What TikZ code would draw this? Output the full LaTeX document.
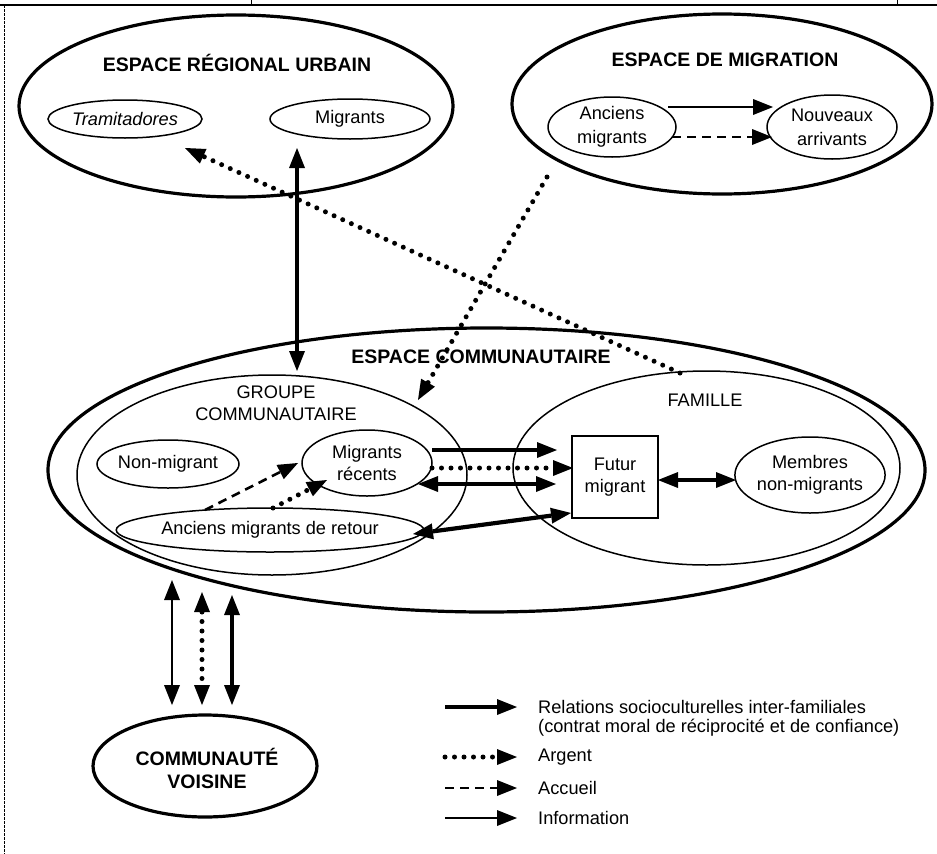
\documentclass[tikz,border=0pt]{standalone}
\usepackage{fontspec}
\setmainfont{Liberation Sans}
\usetikzlibrary{shapes.geometric,arrows.meta}
\begin{document}
\begin{tikzpicture}[x=1pt,y=-1pt,
  >={Triangle[length=20pt,width=16pt,line width=0pt]},
  bigell/.style={ellipse,draw,line width=3.2pt,inner sep=0pt},
  smell/.style={ellipse,draw,line width=1.5pt,inner sep=0pt},
  ttl/.style={font=\fontsize{19.5}{23}\selectfont\bfseries,align=center,inner sep=0pt},
  lab/.style={font=\fontsize{18.2}{22}\selectfont,align=center,inner sep=0pt},
  labw/.style={font=\fontsize{18.2}{24}\selectfont,align=center,inner sep=0pt},
  rel/.style={line width=4.2pt},
  info/.style={line width=2pt},
  accueil/.style={line width=2.6pt,dash pattern=on 9pt off 6pt},
  argent/.style={line width=5pt,line cap=round,dash pattern=on 0pt off 9.5pt}
]
\useasboundingbox (0,0) rectangle (937,854);

% frame
\draw[line width=1.2pt] (0,5) -- (937,5);
\draw[line width=1pt] (251,0) -- (251,5);
\draw[line width=1pt] (897,0) -- (897,5);
\draw[line width=0.8pt,dash pattern=on 3pt off 1pt] (4,5) -- (4,854);

% Espace regional urbain
\node[bigell,minimum width=434pt,minimum height=182pt] (eru) at (236,106) {};
\node[ttl] (eruT) at (237,63) {ESPACE RÉGIONAL URBAIN};
\node[smell,lab,font=\fontsize{18.2}{22}\selectfont\itshape,minimum width=154pt,minimum height=38pt] (tram) at (125,119) {Tramitadores};
\node[smell,lab,minimum width=160pt,minimum height=40pt] (mig) at (350,119) {Migrants};

% Espace de migration
\node[bigell,minimum width=420pt,minimum height=180pt] (edm) at (722,104) {};
\node[ttl] (edmT) at (725,60) {ESPACE DE MIGRATION};
\node[smell,labw,minimum width=128pt,minimum height=60pt] (am) at (612,127) {Anciens\\migrants};
\node[smell,labw,minimum width=130pt,minimum height=64pt] (na) at (832,127) {Nouveaux\\arrivants};

% Espace communautaire
\node[bigell,minimum width=877pt,minimum height=284pt] (ec) at (486.5,470) {};
\node[ttl] (ecT) at (481,357) {ESPACE COMMUNAUTAIRE};
\node[smell,minimum width=390pt,minimum height=200pt] (gc) at (272,475) {};
\node[lab] (gcT) at (276,403) {GROUPE\\COMMUNAUTAIRE};
\node[smell,minimum width=387pt,minimum height=194pt] (fam) at (706.5,468) {};
\node[lab] (famT) at (705,400) {FAMILLE};
\node[draw,line width=1.5pt,lab,minimum width=86pt,minimum height=82pt] (fm) at (615,477) {Futur\\migrant};
\node[smell,lab,minimum width=146pt,minimum height=76pt] (mnm) at (810,475) {Membres\\non-migrants};
\node[smell,lab,minimum width=130pt,minimum height=66pt] (mr) at (367,463) {Migrants\\récents};
\node[smell,lab,minimum width=142pt,minimum height=48pt] (nm) at (168,464) {Non-migrant};
\node[smell,lab,minimum width=276pt,minimum height=44pt] (amr) at (270,530) {Anciens migrants de retour};

% Communaute voisine
\node[bigell,minimum width=224pt,minimum height=102pt] (cv) at (205,766) {};
\node[ttl] (cvT) at (207,768) {COMMUNAUTÉ\\VOISINE};

% connector end points
\coordinate (migS) at (297,148);
\coordinate (gcN) at (297,371);
\coordinate (famA) at (680,373);
\coordinate (tramA) at (185,148);
\coordinate (edmA) at (547,177);
\coordinate (gcA) at (418,400);
\coordinate (am1) at (668,107); \coordinate (na1) at (773,107);
\coordinate (am2) at (672,137); \coordinate (na2) at (772,137);
\coordinate (mr1) at (432,450); \coordinate (fm1) at (557,450);
\coordinate (mr2) at (432,468); \coordinate (fm2) at (573,468);
\coordinate (mr3) at (418,484); \coordinate (fm3) at (556,484);
\coordinate (amr1) at (413,534); \coordinate (fm4) at (571,513);
\coordinate (fm5) at (658,480); \coordinate (mnm1) at (736,480);
\coordinate (amr2) at (205,510); \coordinate (mr4) at (298,463);
\coordinate (amr3) at (273,508); \coordinate (mr5) at (327,480);
\coordinate (ec1) at (172,580); \coordinate (cv1) at (172,705);
\coordinate (ec2) at (202,592); \coordinate (cv2) at (202,705);
\coordinate (ec3) at (232,595); \coordinate (cv3) at (232,705);

% connectors
\draw[rel,<->] (migS) -- (gcN);
\draw[argent,->] (famA) -- (tramA);
\draw[argent,->] (edmA) -- (gcA);
\draw[info,->] (am1) -- (na1);
\draw[accueil,->] (am2) -- (na2);
\draw[rel,->] (mr1) -- (fm1);
\draw[argent,->] (mr2) -- (fm2);
\draw[rel,<->] (mr3) -- (fm3);
\draw[rel,<->] (amr1) -- (fm4);
\draw[rel,<->] (fm5) -- (mnm1);
\draw[accueil,->] (amr2) -- (mr4);
\draw[argent,->] (amr3) -- (mr5);
\draw[info,<->] (ec1) -- (cv1);
\draw[argent,<->] (ec2) -- (cv2);
\draw[rel,<->] (ec3) -- (cv3);

% legend
\coordinate (k1a) at (445,707); \coordinate (k1b) at (517,707);
\coordinate (k2a) at (445,757); \coordinate (k2b) at (517,757);
\coordinate (k3a) at (445,788); \coordinate (k3b) at (517,788);
\coordinate (k4a) at (445,818); \coordinate (k4b) at (517,818);
\draw[rel,->] (k1a) -- (k1b);
\draw[argent,->] (k2a) -- (k2b);
\draw[accueil,->] (k3a) -- (k3b);
\draw[info,->] (k4a) -- (k4b);
\node[lab,anchor=west] (t1) at (538,707) {Relations socioculturelles inter-familiales};
\node[lab,anchor=west] (t1b) at (538,728) {(contrat moral de réciprocité et de confiance)};
\node[lab,anchor=west] (t2) at (538,757) {Argent};
\node[lab,anchor=west] (t3) at (538,788) {Accueil};
\node[lab,anchor=west] (t4) at (538,818) {Information};
\end{tikzpicture}
\end{document}
